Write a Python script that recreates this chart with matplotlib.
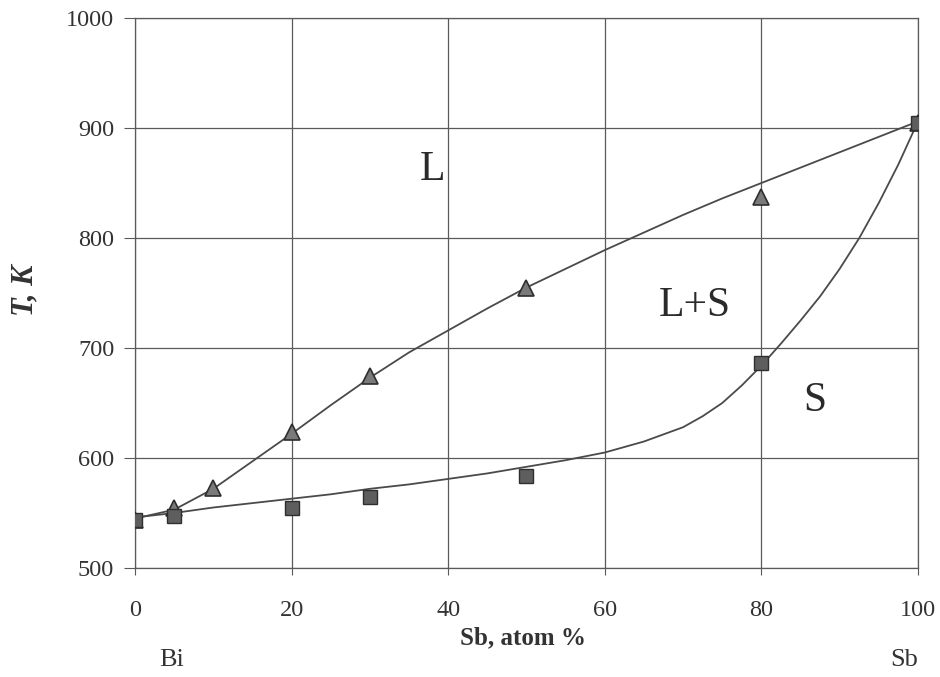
#!/usr/bin/env python3
"""Bi-Sb phase diagram: liquidus/solidus with experimental points."""

import matplotlib

matplotlib.use("Agg")
import matplotlib.pyplot as plt

LIQ_X = [0, 5, 10, 20, 30, 50, 80, 100]
LIQ_T = [544, 555, 573, 624, 675, 755, 837, 905]
SOL_X = [0, 5, 20, 30, 50, 80, 100]
SOL_T = [544, 547, 555, 565, 584, 686, 905]

# drawn curves
LIQ_CURVE_X = [0, 5, 10, 15, 20, 25, 30, 35, 40, 45, 50,
               55, 60, 65, 70, 75, 80, 85, 90, 95, 100]
LIQ_CURVE_T = [545, 553, 572, 597, 622, 648, 673, 696, 716, 736, 755,
               772, 789, 805, 821, 836, 850, 864, 878, 892, 906]
SOL_CURVE_X = [0, 5, 10, 15, 20, 25, 30, 35, 40, 45, 50, 55, 60, 65,
               70, 72.5, 75, 77.5, 80, 82.5, 85, 87.5, 90, 92.5, 95, 97.5, 100]
SOL_CURVE_T = [546, 550, 555, 559, 563, 567, 572, 576, 581, 586, 592, 598,
               605, 615, 628, 638, 650, 666, 684, 704, 725, 747, 772, 800,
               832, 867, 906]

X_TICKS = [0, 20, 40, 60, 80, 100]
Y_TICKS = [500, 600, 700, 800, 900, 1000]

REGIONS = [("L", 38, 862), ("L+S", 71.5, 738), ("S", 86.8, 652)]

LINE = "#4a4a4a"
GRID = "#5a5a5a"


def main() -> None:
    plt.rcParams["font.family"] = ["Liberation Serif", "DejaVu Serif"]
    fig = plt.figure(figsize=(9.4, 6.77), dpi=100)
    ax = fig.add_axes([0.1436, 0.161, 0.8330, 0.8124])

    ax.plot(LIQ_CURVE_X, LIQ_CURVE_T, color=LINE, linewidth=1.3, zorder=3)
    ax.plot(SOL_CURVE_X, SOL_CURVE_T, color=LINE, linewidth=1.3, zorder=3)
    ax.plot(LIQ_X, LIQ_T, linestyle="none", marker="^", markersize=12,
            markerfacecolor="#7a7a7a", markeredgecolor="#2e2e2e",
            markeredgewidth=1.2, zorder=4)
    ax.plot(SOL_X, SOL_T, linestyle="none", marker="s", markersize=10.5,
            markerfacecolor="#5e5e5e", markeredgecolor="#2e2e2e",
            markeredgewidth=1.0, zorder=4)

    for text, x, t in REGIONS:
        ax.text(x, t, text, fontsize=30, ha="center", va="center",
                color="#2a2a2a")

    ax.set_xlim(0, 100)
    ax.set_ylim(500, 1000)
    ax.set_xticks(X_TICKS)
    ax.set_yticks(Y_TICKS)
    ax.grid(True, color=GRID, linewidth=0.9)
    for spine in ax.spines.values():
        spine.set_color(GRID)
        spine.set_linewidth(0.9)
    ax.tick_params(axis="both", direction="out", color=GRID,
                   labelsize=17.5, labelcolor="#333333")
    ax.tick_params(axis="y", length=8, pad=7)
    ax.tick_params(axis="x", length=5, pad=18)

    fig.text(0.026, 0.572, "T, K", fontsize=22, fontweight="bold",
             fontstyle="italic", rotation=90, ha="center", va="center",
             color="#333333")
    fig.text(0.556, 0.058, "Sb, atom %", fontsize=18, fontweight="bold",
             ha="center", va="center", color="#333333")
    fig.text(0.183, 0.025, "Bi", fontsize=19, ha="center", va="center",
             color="#333333")
    fig.text(0.962, 0.025, "Sb", fontsize=19, ha="center", va="center",
             color="#333333")

    fig.savefig("out.png", dpi=100)
    plt.close(fig)


if __name__ == "__main__":
    main()
